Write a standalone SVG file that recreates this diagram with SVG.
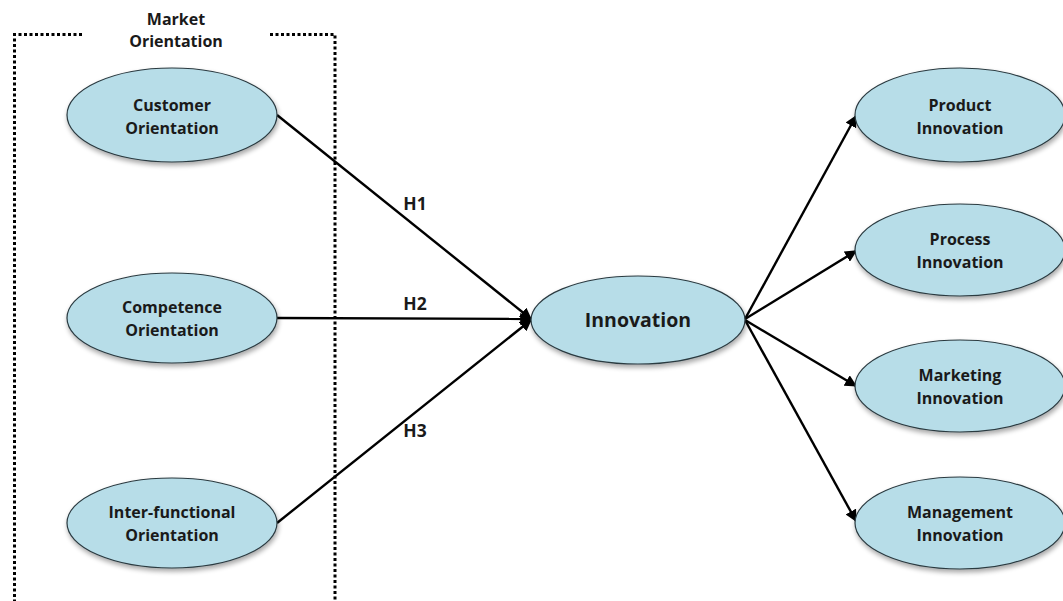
<svg xmlns="http://www.w3.org/2000/svg" width="1063" height="601" viewBox="0 0 1063 601">
  <style>
    .node ellipse { fill: #b7dde8; stroke: #2a3a40; stroke-width: 1.2; filter: url(#shadow); }
    .lbl { font-family: "Open Sans", "Liberation Sans", sans-serif; font-weight: bold; font-size: 16px; fill: #1a1a1a; text-anchor: middle; }
    .big { font-size: 19.5px; }
    .hyp { font-size: 17.5px; }
    .edge { stroke: #000; stroke-width: 2.4; fill: none; marker-end: url(#arrow); }
    .frame { stroke: #000; stroke-width: 3; stroke-dasharray: 3 2.5; fill: none; }
  </style>
  <defs>
    <filter id="shadow" x="-20%" y="-20%" width="140%" height="150%">
      <feGaussianBlur in="SourceAlpha" stdDeviation="2.5"/>
      <feOffset dx="1" dy="3" result="b"/>
      <feComponentTransfer><feFuncA type="linear" slope="0.35"/></feComponentTransfer>
      <feMerge><feMergeNode/><feMergeNode in="SourceGraphic"/></feMerge>
    </filter>
    <marker id="arrow" viewBox="0 0 10 10" refX="9" refY="5" markerWidth="5" markerHeight="5" orient="auto" markerUnits="strokeWidth">
      <path d="M0,0 L10,5 L0,10 z" fill="#000"/>
    </marker>
  </defs>

  <!-- Market Orientation frame -->
  <g id="market-orientation">
    <path class="frame" d="M82,34.5 L14.5,34.5 L14.5,601 M270,34.5 L335,34.5 L335,601"/>
    <text class="lbl" x="176" y="25">Market</text>
    <text class="lbl" x="176" y="47">Orientation</text>
  </g>

  <!-- connectors -->
  <g id="connectors">
    <line class="edge" x1="277" y1="115" x2="531" y2="319"/>
    <line class="edge" x1="277" y1="318" x2="531" y2="319"/>
    <line class="edge" x1="277" y1="523" x2="531" y2="320"/>
    <line class="edge" x1="745" y1="319" x2="856" y2="116"/>
    <line class="edge" x1="745" y1="319" x2="856" y2="251"/>
    <line class="edge" x1="745" y1="320" x2="856" y2="386"/>
    <line class="edge" x1="745" y1="320" x2="856" y2="521"/>
    <text class="lbl hyp" x="415" y="210">H1</text>
    <text class="lbl hyp" x="415" y="310">H2</text>
    <text class="lbl hyp" x="415" y="437">H3</text>
  </g>

  <g id="customer-orientation" class="node">
    <ellipse cx="172" cy="115" rx="105" ry="47"/>
    <text class="lbl" x="172" y="111">Customer</text>
    <text class="lbl" x="172" y="134">Orientation</text>
  </g>
  <g id="competence-orientation" class="node">
    <ellipse cx="172" cy="318" rx="105" ry="45"/>
    <text class="lbl" x="172" y="313">Competence</text>
    <text class="lbl" x="172" y="336">Orientation</text>
  </g>
  <g id="interfunctional-orientation" class="node">
    <ellipse cx="172" cy="523" rx="105" ry="45"/>
    <text class="lbl" x="172" y="518">Inter-functional</text>
    <text class="lbl" x="172" y="541">Orientation</text>
  </g>
  <g id="innovation" class="node">
    <ellipse cx="638" cy="320" rx="107" ry="44"/>
    <text class="lbl big" x="638" y="327">Innovation</text>
  </g>
  <g id="product-innovation" class="node">
    <ellipse cx="960" cy="115" rx="105" ry="47"/>
    <text class="lbl" x="960" y="111">Product</text>
    <text class="lbl" x="960" y="134">Innovation</text>
  </g>
  <g id="process-innovation" class="node">
    <ellipse cx="960" cy="250" rx="105" ry="46"/>
    <text class="lbl" x="960" y="245">Process</text>
    <text class="lbl" x="960" y="268">Innovation</text>
  </g>
  <g id="marketing-innovation" class="node">
    <ellipse cx="960" cy="386" rx="105" ry="46"/>
    <text class="lbl" x="960" y="381">Marketing</text>
    <text class="lbl" x="960" y="404">Innovation</text>
  </g>
  <g id="management-innovation" class="node">
    <ellipse cx="960" cy="523" rx="105" ry="46"/>
    <text class="lbl" x="960" y="518">Management</text>
    <text class="lbl" x="960" y="541">Innovation</text>
  </g>
</svg>
